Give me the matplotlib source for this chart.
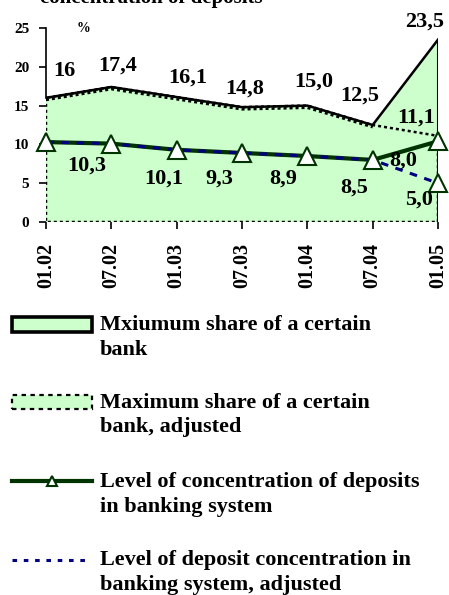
import matplotlib
matplotlib.use("Agg")
import matplotlib.pyplot as plt
import matplotlib.transforms as mtransforms
from matplotlib.patches import Rectangle
from matplotlib.lines import Line2D

# ---- data ----
dates = ["01.02", "07.02", "01.03", "07.03", "01.04", "07.04", "01.05"]
max_share = [16.0, 17.4, 16.1, 14.8, 15.0, 12.5, 23.5]
max_share_adj = [16.0, 17.4, 16.1, 14.8, 15.0, 12.5, 11.1]
concentration = [10.3, 10.1, 9.3, 8.9, 8.5, 8.0, 10.4]
concentration_adj = [10.3, 10.1, 9.3, 8.9, 8.5, 8.0, 5.0]

max_labels = ["16", "17,4", "16,1", "14,8", "15,0", "12,5", "23,5"]
max_adj_label = "11,1"
conc_labels = ["10,3", "10,1", "9,3", "8,9", "8,5", "8,0"]
conc_adj_label = "5,0"

legend_labels = [
    "Mxiumum share of a certain\nbank",
    "Maximum share of a certain\nbank, adjusted",
    "Level of concentration of deposits\nin banking system",
    "Level of deposit concentration in\nbanking system, adjusted",
]

# ---- style ----
SERIF = ["Liberation Serif", "DejaVu Serif"]
plt.rcParams["font.family"] = SERIF
plt.rcParams["font.weight"] = "bold"
FILL = "#CCFFCC"
GREEN = "#003300"
NAVY = "#000080"

W, H = 449, 595
fig = plt.figure(figsize=(W / 100, H / 100), dpi=100)
fig.patch.set_facecolor("white")

def fx(px):
    return px / W

def fy(py):
    return 1 - py / H

ax = fig.add_axes([fx(46), fy(222), fx(438) - fx(46), fy(28) - fy(222)])
x = list(range(len(dates)))
ax.set_xlim(x[0], x[-1])
ax.set_ylim(0, 25)

# max share area
ax.fill_between(x, 0, max_share, facecolor=FILL, edgecolor="none", zorder=1)
# adjusted area with dotted border
ax.fill_between(x, 0, max_share_adj, facecolor=FILL, edgecolor="black",
                linestyle=(0, (1.2, 1.2)), linewidth=1.8, zorder=2)
# slightly offset dotted top (visible under the solid line)
off = mtransforms.offset_copy(ax.transData, fig=fig, x=0, y=-2.2, units="dots")
ax.plot(x[:-1], max_share_adj[:-1], color="black", lw=1.8,
        linestyle=(0, (1.2, 1.2)), transform=off, zorder=3)
# solid top line and right edge
ax.plot(x, max_share, color="black", lw=1.8, zorder=4, solid_joinstyle="miter")
ax.vlines(x[-1], 0, max_share[-1], color="black", lw=2.2, zorder=4)

# concentration lines
ax.plot(x, concentration, color=GREEN, lw=3, zorder=5)
ax.plot(x, concentration_adj, color=NAVY, lw=2.2, linestyle=(0, (2.5, 2.5)), zorder=6)
ax.plot(x, concentration, linestyle="none", marker="^", markersize=13,
        markerfacecolor="white", markeredgecolor=GREEN, markeredgewidth=1.5, zorder=7,
        clip_on=False)
ax.plot(x[-1:], concentration_adj[-1:], linestyle="none", marker="^", markersize=13,
        markerfacecolor="white", markeredgecolor=GREEN, markeredgewidth=1.5, zorder=7,
        clip_on=False)

# data labels (pixel offsets from their points)
lab_kw = dict(textcoords="offset pixels", ha="center", va="center",
              fontsize=16, fontweight="bold", zorder=8, annotation_clip=False)
max_off = [(18, 27), (6, 21), (11, 19), (3, 19), (6, 24), (-13, 29), (-13, 18)]
for i, (t, o) in enumerate(zip(max_labels, max_off)):
    ax.annotate(t, (x[i], max_share[i]), xytext=o, **lab_kw)
ax.annotate(max_adj_label, (x[-1], max_share_adj[-1]), xytext=(-22, 18), **lab_kw)
conc_off = [(41, -24), (52, -35), (43, -29), (41, -26), (47, -32), (31, -1)]
for i, (t, o) in enumerate(zip(conc_labels, conc_off)):
    ax.annotate(t, (x[i], concentration[i]), xytext=o, **lab_kw)
ax.annotate(conc_adj_label, (x[-1], concentration_adj[-1]), xytext=(-19, -16), **lab_kw)

# axes styling
for s in ["top", "right", "bottom"]:
    ax.spines[s].set_visible(False)
ax.spines["left"].set_bounds(max_share[0], 25)
ax.spines["left"].set_linewidth(1.2)
ax.set_yticks([0, 5, 10, 15, 20, 25])
ax.set_xticks(x)
ax.set_xticklabels(dates, rotation=90, fontsize=14.5, fontweight="bold")
ax.tick_params(axis="x", direction="out", length=5, width=1.2, pad=10)
ax.tick_params(axis="y", direction="out", length=5, width=1.2, pad=7, labelsize=11)
for t in ax.get_yticklabels():
    t.set_fontweight("bold")
ax.set_facecolor("white")

# "%" label and clipped title
fig.text(fx(83), fy(28), "%", ha="center", va="center", fontsize=10, fontweight="bold")
fig.text(fx(40), fy(3), "concentration of deposits", ha="left", va="baseline",
         fontsize=15, fontweight="bold")

# ---- manual legend ----
tf = fig.transFigure
fig.patches.append(Rectangle((fx(12), fy(332)), fx(92) - fx(12), fy(317) - fy(332),
                             facecolor=FILL, edgecolor="black", lw=2.6, transform=tf))
fig.patches.append(Rectangle((fx(12), fy(409)), fx(92) - fx(12), fy(395) - fy(409),
                             facecolor=FILL, edgecolor="black", lw=1.6,
                             linestyle=(0, (2, 2)), transform=tf))
fig.lines.append(Line2D([fx(12), fx(92)], [fy(481), fy(481)], color=GREEN, lw=3, transform=tf))
fig.lines.append(Line2D([fx(52)], [fy(481)], color=GREEN, marker="^", markersize=7,
                        markerfacecolor="white", markeredgecolor=GREEN,
                        markeredgewidth=1.5, transform=tf))
fig.lines.append(Line2D([fx(12), fx(88)], [fy(560), fy(560)], color=NAVY, lw=2.2,
                        linestyle=(0, (1.5, 2.2)), transform=tf))
for lab, base in zip(legend_labels, [355, 432, 512, 590]):
    fig.text(fx(100), fy(base), lab, ha="left", va="baseline", fontsize=16,
             fontweight="bold", linespacing=1.3)

fig.savefig("out.png", dpi=100)
